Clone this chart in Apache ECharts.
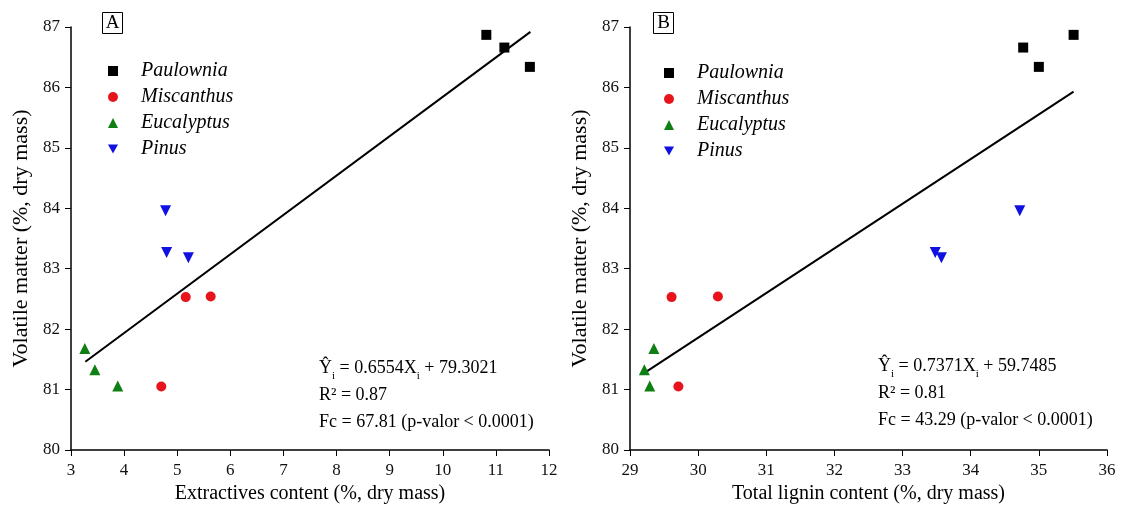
<!DOCTYPE html>
<html>
<head>
<meta charset="utf-8">
<script src="https://cdn.jsdelivr.net/npm/echarts@6/dist/echarts.min.js"></script>
<style>
  html, body { margin: 0; padding: 0; background: #fff; }
  #chart { width: 1123px; height: 510px; }
</style>
</head>
<body>
<div id="chart"></div>
<script>
// species names (legend)
const species = ["Paulownia", "Miscanthus", "Eucalyptus", "Pinus"]

// volatile matter (%, dry mass), same samples in both panels
const paulowniaVM = [86.87, 86.66, 86.34]
const miscanthusVM = [82.53, 82.54, 81.05]
const eucalyptusVM = [81.68, 81.33, 81.06]
const pinusVM = [83.96, 83.27, 83.18]

// panel A: extractives content
const paulowniaExtr = [10.82, 11.16, 11.64]
const miscanthusExtr = [5.16, 5.63, 4.70]
const eucalyptusExtr = [3.26, 3.45, 3.88]
const pinusExtr = [4.78, 4.80, 5.21]

// panel B: total lignin content
const paulowniaLig = [35.51, 34.77, 35.00]
const miscanthusLig = [29.61, 30.29, 29.71]
const eucalyptusLig = [29.35, 29.21, 29.29]
const pinusLig = [34.72, 33.48, 33.57]

// fitted lines (end points)
const fitA = [[3.27, 81.46], [11.65, 86.92]]
const fitB = [[29.19, 81.26], [35.51, 85.93]]

// equation texts
const eqA = ["0.6554", "79.3021", "0.87", "67.81"]
const eqB = ["0.7371", "59.7485", "0.81", "43.29"]

const font = "Liberation Serif"
const colors = ["#000000", "#e8141c", "#0e7f12", "#1010e0"]
const symbols = ["rect", "circle", "triangle", "triangle"]
const symbolSizes = [10, 10, 11, 11]
const rotates = [0, 0, 0, 180]
// legend icons (Pinus is an inverted triangle)
const legendIcons = ["rect", "circle", "triangle", "path://M0,0 L10,0 L5,9 Z"]

const xsA = [paulowniaExtr, miscanthusExtr, eucalyptusExtr, pinusExtr]
const xsB = [paulowniaLig, miscanthusLig, eucalyptusLig, pinusLig]
const ys = [paulowniaVM, miscanthusVM, eucalyptusVM, pinusVM]

const zip = (xs, yv) => xs.map((x, i) => [x, yv[i]])

const axisCommon = {
  splitLine: { show: false },
  axisLine: { show: true, lineStyle: { color: "#000", width: 1.5 } },
  axisTick: { show: true, length: 6, lineStyle: { color: "#000", width: 1 } },
  axisLabel: { color: "#111", fontFamily: font, fontSize: 17 }
}

const xAxisCfg = (idx, min, max, name) => ({
  ...axisCommon,
  type: "value",
  gridIndex: idx,
  min: min,
  max: max,
  interval: 1,
  name: name,
  nameLocation: "middle",
  nameGap: 34,
  nameTextStyle: { color: "#000", fontFamily: font, fontSize: 20 },
  axisLabel: { ...axisCommon.axisLabel, margin: 12 }
})

const yAxisCfg = (idx) => ({
  ...axisCommon,
  type: "value",
  gridIndex: idx,
  min: 80,
  max: 87,
  interval: 1,
  name: "Volatile matter (%, dry mass)",
  nameLocation: "middle",
  nameGap: 39,
  nameTextStyle: { color: "#000", fontFamily: font, fontSize: 22 },
  axisLabel: { ...axisCommon.axisLabel, margin: 11 }
})

const series = []
;[xsA, xsB].forEach((xs, g) => {
  species.forEach((name, k) => {
    series.push({
      name: name,
      type: "scatter",
      xAxisIndex: g,
      yAxisIndex: g,
      symbol: symbols[k],
      symbolSize: symbolSizes[k],
      symbolRotate: rotates[k],
      itemStyle: { color: colors[k], opacity: 1 },
      data: zip(xs[k], ys[k]),
      z: 3
    })
  })
})
series.push({
  type: "line",
  xAxisIndex: 0,
  yAxisIndex: 0,
  data: fitA,
  symbol: "none",
  lineStyle: { color: "#000", width: 2 },
  z: 2
})
series.push({
  type: "line",
  xAxisIndex: 1,
  yAxisIndex: 1,
  data: fitB,
  symbol: "none",
  lineStyle: { color: "#000", width: 2 },
  z: 2
})

const legendCfg = (left, top) => ({
  data: species.map((name, k) => ({ name: name, icon: legendIcons[k] })),
  orient: "vertical",
  left: left,
  top: top,
  padding: 0,
  itemWidth: 10,
  itemHeight: 10,
  itemGap: 6,
  selectedMode: false,
  textStyle: {
    fontFamily: font,
    fontStyle: "italic",
    fontSize: 20,
    lineHeight: 20,
    color: "#000",
    padding: [0, 0, 0, 18]
  }
})

const eqRich = {
  n: { fontFamily: font, fontSize: 18, lineHeight: 27, color: "#000" },
  s: { fontFamily: font, fontSize: 11, lineHeight: 11, color: "#000", verticalAlign: "bottom" }
}
const eqText = (e) =>
  "{n|Ŷ}{s|i}{n| = " + e[0] + "X}{s|i}{n| + " + e[1] + "}\n" +
  "{n|R² = " + e[2] + "}\n" +
  "{n|Fc = " + e[3] + " (p-valor < 0.0001)}"

const panelLabel = (x, y, letter) => ({
  type: "group",
  left: x,
  top: y,
  children: [
    { type: "rect", shape: { x: 0, y: 0, width: 20, height: 21 }, style: { fill: "#fff", stroke: "#000", lineWidth: 1 } },
    { type: "text", x: 10, y: 11, style: { text: letter, fontFamily: font, fontSize: 19, fill: "#000", align: "center", verticalAlign: "middle" } }
  ]
})

const chart = echarts.init(document.getElementById("chart"))

const option = {
  backgroundColor: "#fff",
  animation: false,
  grid: [
    { left: 71, top: 27, width: 478, height: 423 },
    { left: 630, top: 27, width: 477, height: 423 }
  ],
  xAxis: [
    xAxisCfg(0, 3, 12, "Extractives content (%, dry mass)"),
    xAxisCfg(1, 29, 36, "Total lignin content (%, dry mass)")
  ],
  yAxis: [yAxisCfg(0), yAxisCfg(1)],
  legend: [legendCfg(108, 61), legendCfg(664, 63)],
  graphic: [
    panelLabel(102, 12, "A"),
    panelLabel(653, 12, "B"),
    { type: "text", left: 319, top: 359, style: { text: eqText(eqA), rich: eqRich } },
    { type: "text", left: 878, top: 357, style: { text: eqText(eqB), rich: eqRich } }
  ],
  series: series
}

chart.setOption(option)

window.addEventListener("resize", () => {
  chart.resize()
})
</script>
</body>
</html>
